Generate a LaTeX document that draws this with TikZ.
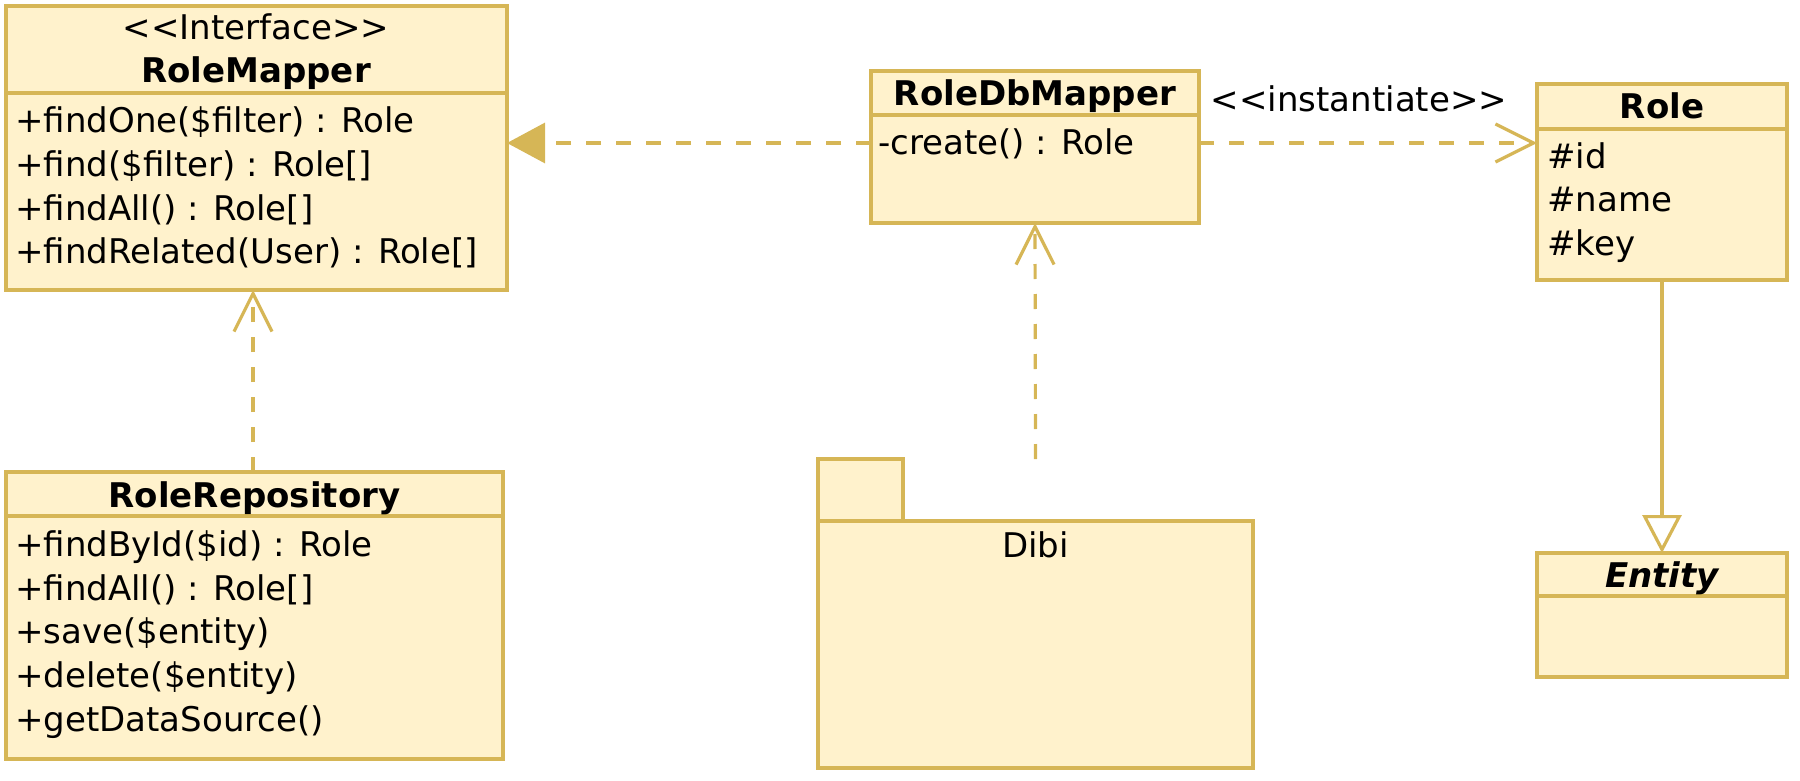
\documentclass[tikz,border=0pt]{standalone}
\usepackage{fontspec}
\setmainfont{DejaVu Sans}[Ligatures=TeXOff]
\usetikzlibrary{arrows.meta}
\definecolor{umlfill}{HTML}{FFF2CC}
\definecolor{umlline}{HTML}{D6B656}
\begin{document}
\begin{tikzpicture}[x=1pt,y=-1pt,
  box/.style={rectangle, draw=umlline, fill=umlfill, line width=3.2pt, inner sep=0pt, outer sep=0pt, anchor=north west},
  sepline/.style={draw=umlline, line width=3.2pt},
  mtxt/.style={anchor=base west, inner sep=0pt, font=\fontsize{34}{40}\selectfont},
  ctxt/.style={anchor=base, inner sep=0pt, font=\fontsize{34}{40}\selectfont},
  ttl/.style={anchor=base, inner sep=0pt, font=\fontsize{34}{40}\selectfont\bfseries},
  conn/.style={draw=umlline, line width=3.2pt},
  dashconn/.style={conn, dash pattern=on 15pt off 15pt},
  openhead/.style={-{Straight Barb[length=38pt, width=38pt, line width=3.2pt]}},
  filledhead/.style={-{Triangle[length=38pt, width=40pt, fill=umlline]}},
  hollowhead/.style={-{Triangle[open, length=38pt, width=39pt, fill=white, line width=3.2pt]}}
]
\useasboundingbox (0,0) rectangle (1800,781);

% RoleMapper
\node[box, minimum width=501pt, minimum height=284pt] (rm) at (6,6) {};
\draw[sepline] (rm.west |- 0,93) -- (rm.east |- 0,93);
\node[ctxt] (rmst) at (256,40) {<<Interface>>};
\node[ttl] (rmt) at (256,83) {RoleMapper};
\node[mtxt] (rm1) at (15,133) {+findOne(\$filter) : Role};
\node[mtxt] (rm2) at (15,176.5) {+find(\$filter) : Role[]};
\node[mtxt] (rm3) at (15,220) {+findAll() : Role[]};
\node[mtxt] (rm4) at (15,263.5) {+findRelated(User) : Role[]};

% RoleDbMapper
\node[box, minimum width=328pt, minimum height=152pt] (rdm) at (871,71) {};
\draw[sepline] (rdm.west |- 0,115) -- (rdm.east |- 0,115);
\node[ttl] (rdmt) at (1035,106) {RoleDbMapper};
\node[mtxt] (rdm1) at (878,155) {-create() : Role};

% Role
\node[box, minimum width=250pt, minimum height=196pt] (role) at (1537,84) {};
\draw[sepline] (role.west |- 0,129) -- (role.east |- 0,129);
\node[ttl] (rolet) at (1662,119) {Role};
\node[mtxt] (role1) at (1547,168) {\#id};
\node[mtxt] (role2) at (1547,211.5) {\#name};
\node[mtxt] (role3) at (1547,255) {\#key};

% RoleRepository
\node[box, minimum width=497pt, minimum height=287pt] (rr) at (6,472) {};
\draw[sepline] (rr.west |- 0,516) -- (rr.east |- 0,516);
\node[ttl] (rrt) at (254.5,507) {RoleRepository};
\node[mtxt] (rr1) at (15,556) {+findById(\$id) : Role};
\node[mtxt] (rr2) at (15,600) {+findAll() : Role[]};
\node[mtxt] (rr3) at (15,643.5) {+save(\$entity)};
\node[mtxt] (rr4) at (15,687) {+delete(\$entity)};
\node[mtxt] (rr5) at (15,731) {+getDataSource()};

% Entity
\node[box, minimum width=250pt, minimum height=124pt] (ent) at (1537,553) {};
\draw[sepline] (ent.west |- 0,596) -- (ent.east |- 0,596);
\node[ttl, font=\fontsize{34}{40}\selectfont\bfseries\itshape] (entt) at (1662,587) {Entity};

% Dibi package
\node[box, minimum width=435pt, minimum height=247pt] (dibi) at (818,521) {};
\node[box, anchor=south west, minimum width=85pt, minimum height=62pt] (dibitab) at (dibi.north west) {};
\node[ctxt] (dibit) at (1035.5,557) {Dibi};

% connectors
\coordinate (yline) at (0,143);
\draw[dashconn, filledhead] (rdm.west |- yline) -- (rm.east |- yline);
\draw[dashconn, openhead] (rdm.east |- yline) -- (role.west |- yline);
\node[ctxt] (inst) at (1359,112) {<<instantiate>>};
\draw[dashconn, openhead] (rr.north -| 253,0) -- (rm.south -| 253,0);
\draw[dashconn, openhead] (dibi.north |- dibitab.north) -- (rdm.south);
\draw[conn, hollowhead] (role.south) -- (ent.north);
\end{tikzpicture}
\end{document}
